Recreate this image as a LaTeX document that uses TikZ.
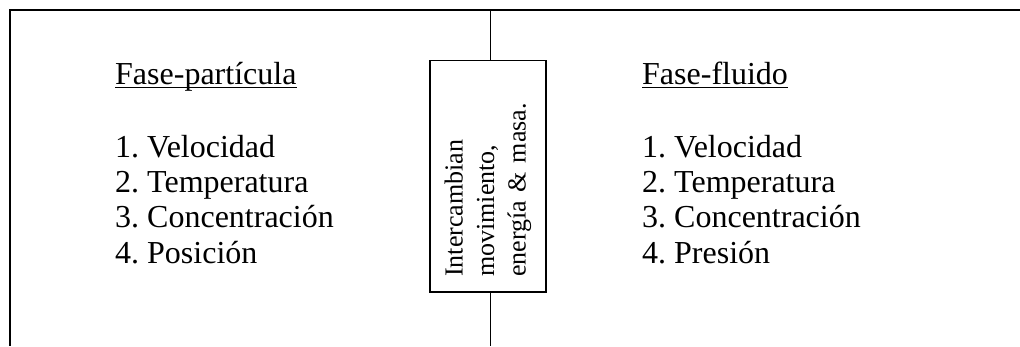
\documentclass[tikz,border=0pt]{standalone}
\usepackage{fontspec}
\setmainfont{Liberation Serif}
\frenchspacing
\begin{document}
\begin{tikzpicture}[x=1pt,y=-1pt,
  frame/.style={line width=1.5pt},
  head/.style={anchor=base west, inner sep=0pt, font=\fontsize{32}{36}\selectfont},
  item/.style={anchor=base west, inner sep=0pt, font=\fontsize{32}{36}\selectfont},
  uline/.style={line width=1pt},
  xbox/.style={draw, line width=1.5pt, rotate=90, minimum width=231.5pt, minimum height=115.7pt,
    inner xsep=15pt, inner ysep=0pt, text width=201pt, align=left, font=\fontsize{26}{31.5}\selectfont}]
\useasboundingbox (0,0) rectangle (1020,346);
% frame
\coordinate (tl) at (10,10);
\coordinate (tr) at (1020,10);
\coordinate (bl) at (10,346);
\coordinate (ct) at (490.7,10);
\coordinate (cb) at (490.7,346);
\draw[frame] (tr) -- (tl) -- (bl);
% central box
\node[xbox] (box) at (488,176.3) {Intercambian\\movimiento,\\energía \& masa.};
\draw[frame] (ct) -- (ct |- box.east);
\draw[frame] (box.west -| cb) -- (cb);
% left column
\node[head] (lt) at (115,84) {Fase-partícula};
\draw[uline] ([yshift=-3pt]lt.base west) -- ([yshift=-3pt]lt.base east);
\node[item] (l1) at (115,157) {1. Velocidad};
\node[item] (l2) at (115,192.3) {2. Temperatura};
\node[item] (l3) at (115,227.6) {3. Concentración};
\node[item] (l4) at (115,263) {4. Posición};
% right column
\node[head] (rt) at (642,84) {Fase-fluido};
\draw[uline] ([yshift=-3pt]rt.base west) -- ([yshift=-3pt]rt.base east);
\node[item] (r1) at (642,157) {1. Velocidad};
\node[item] (r2) at (642,192.3) {2. Temperatura};
\node[item] (r3) at (642,227.6) {3. Concentración};
\node[item] (r4) at (642,263) {4. Presión};
\end{tikzpicture}
\end{document}
